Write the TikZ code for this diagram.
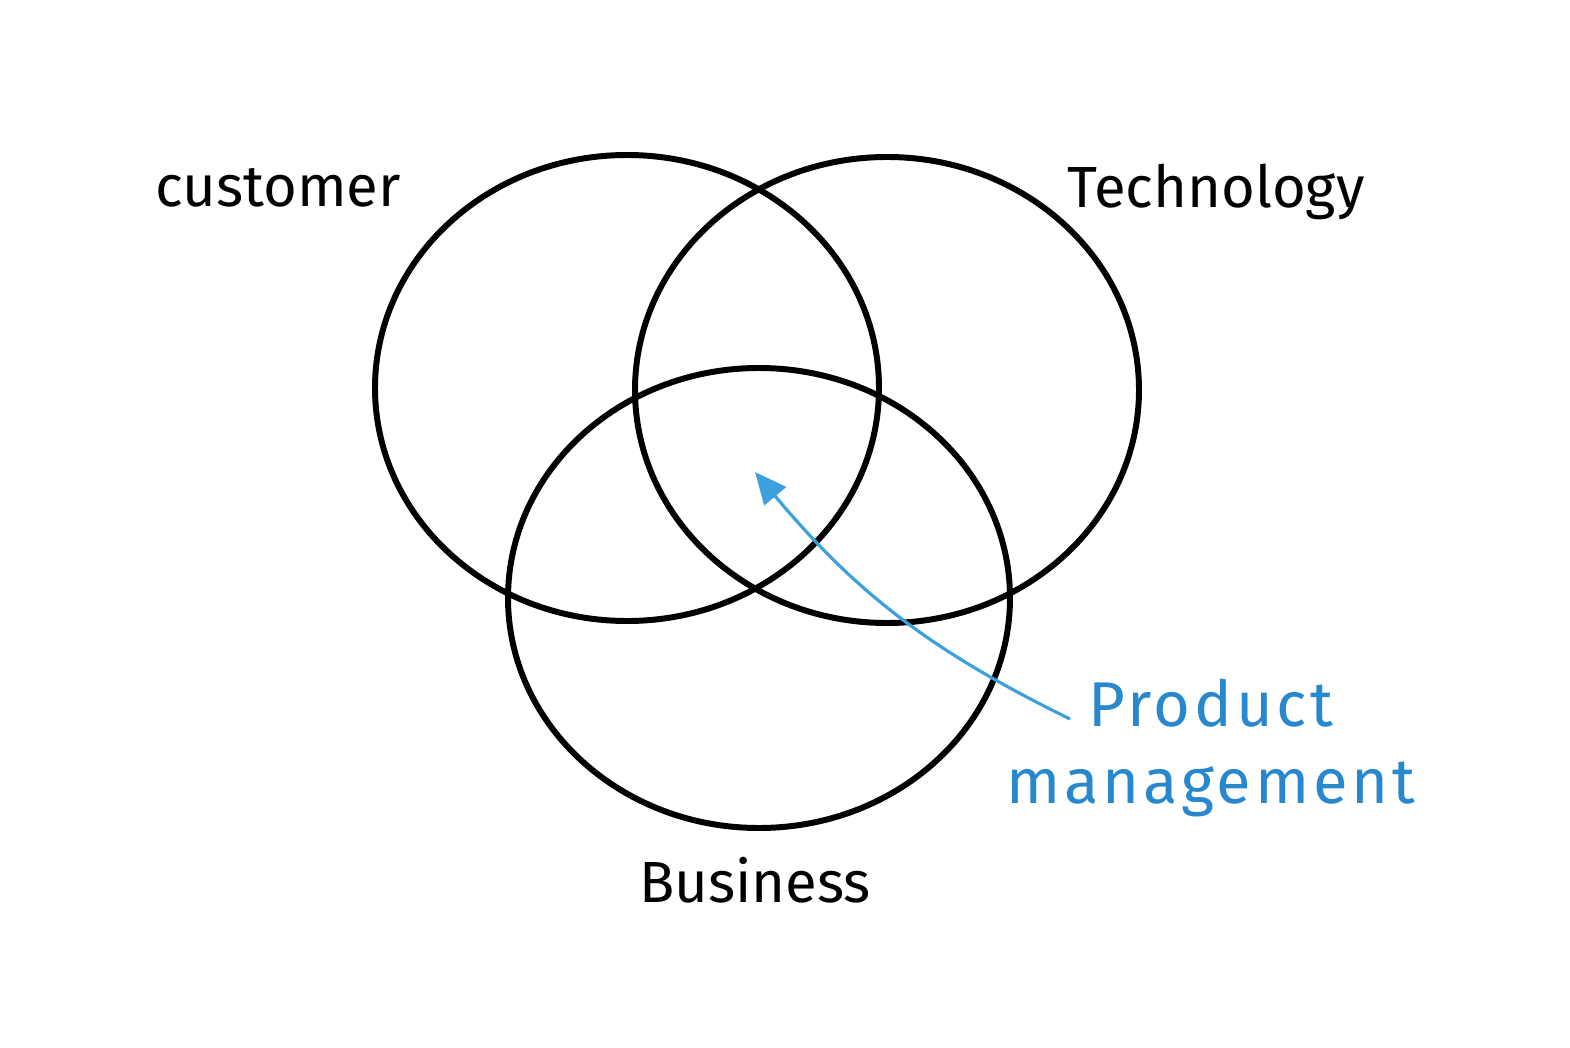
\documentclass[tikz,border=0pt]{standalone}
\usepackage{fontspec}
\setmainfont{Fira Sans}
\newfontfamily\pmfont[LetterSpace=6]{Fira Sans}
\usetikzlibrary{arrows.meta}
\definecolor{pmblue}{RGB}{40,135,205}
\definecolor{arrowblue}{RGB}{60,160,220}
\begin{document}
\begin{tikzpicture}[
  ring/.style={line width=1.7pt, black},
  lbl/.style={font=\fontsize{16.5}{19}\selectfont, anchor=base},
  pmlbl/.style={font=\pmfont\fontsize{18}{21.8}\selectfont, text=pmblue, align=center, inner sep=0pt},
  pointer/.style={line width=0.9pt, arrowblue, -{Triangle[length=9pt,width=8pt]}}
]
\useasboundingbox (0,0) rectangle (15.7,10.47);

% circle centres
\coordinate (cust) at (6.27,6.59);
\coordinate (tech) at (8.87,6.57);
\coordinate (bus) at (7.59,4.49);
\coordinate (core) at (7.55,5.75);

\draw[ring] (cust) ellipse [x radius=2.52cm, y radius=2.33cm];
\draw[ring] (tech) ellipse [x radius=2.52cm, y radius=2.33cm];
\draw[ring] (bus) ellipse [x radius=2.51cm, y radius=2.30cm];

% labels
\node[lbl] (custlbl) at (2.78,8.40) {customer};
\node[lbl] (techlbl) at (12.16,8.39) {Technology};
\node[lbl] (buslbl) at (7.55,1.45) {Business};
\node[pmlbl] (pm) at (12.11,2.99) {Product\\management};
\coordinate (tail) at (10.70,3.28);

% pointer
\draw[pointer] (tail) to[bend left=12] (core);
\end{tikzpicture}
\end{document}
